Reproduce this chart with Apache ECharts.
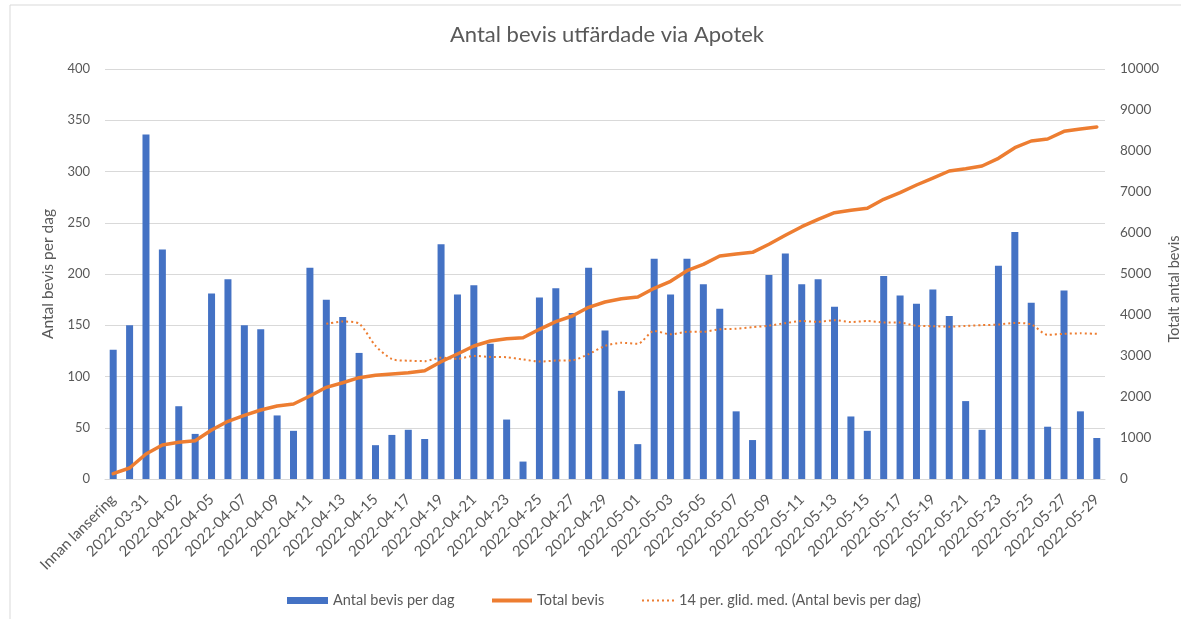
<!DOCTYPE html>
<html>
<head>
<meta charset="utf-8">
<script src="https://cdn.jsdelivr.net/npm/echarts@6/dist/echarts.min.js"></script>
<style>
html,body{margin:0;padding:0;background:#fff;}
#chart{width:1181px;height:619px;}
</style>
</head>
<body>
<div id="chart"></div>
<script>
const categories = ['Innan lansering','2022-03-30','2022-03-31','2022-04-01','2022-04-02','2022-04-04',
'2022-04-05','2022-04-06','2022-04-07','2022-04-08','2022-04-09','2022-04-10','2022-04-11','2022-04-12',
'2022-04-13','2022-04-14','2022-04-15','2022-04-16','2022-04-17','2022-04-18','2022-04-19','2022-04-20',
'2022-04-21','2022-04-22','2022-04-23','2022-04-24','2022-04-25','2022-04-26','2022-04-27','2022-04-28',
'2022-04-29','2022-04-30','2022-05-01','2022-05-02','2022-05-03','2022-05-04','2022-05-05','2022-05-06',
'2022-05-07','2022-05-08','2022-05-09','2022-05-10','2022-05-11','2022-05-12','2022-05-13','2022-05-14',
'2022-05-15','2022-05-16','2022-05-17','2022-05-18','2022-05-19','2022-05-20','2022-05-21','2022-05-22',
'2022-05-23','2022-05-24','2022-05-25','2022-05-26','2022-05-27','2022-05-28','2022-05-29'];

const perDay = [126,150,336,224,71,44,181,195,150,146,62,47,206,175,158,123,33,43,48,39,
229,180,189,132,58,17,177,186,162,206,145,86,34,215,180,215,190,166,66,38,
199,220,190,195,168,61,47,198,179,171,185,159,76,48,208,241,172,51,184,66,40];

const totalBevis = [130,268,610,829,894,935,1195,1407,1553,1683,1780,1829,2024,2236,2349,2471,2529,2561,2593,2642,
2861,3049,3244,3366,3422,3446,3651,3837,3976,4188,4317,4398,4439,4651,4822,5081,5236,5439,5488,5529,
5725,5944,6154,6334,6495,6554,6602,6822,6983,7171,7341,7512,7568,7634,7822,8081,8244,8293,8480,8537,8585];

const movingAvg = [null,null,null,null,null,null,null,null,null,null,null,null,null,
151.4,153.6,151.6,129.9,117,115.4,115,118.4,117.3,120.1,119.1,118.8,116.6,114.6,115.5,115.8,121.8,
129.8,132.9,131.9,144.5,141.1,143.6,143.7,146.1,146.6,148.1,149.6,152,154.1,153.3,154.9,153.1,154.1,
152.8,152.6,149.5,149.1,148.6,149.4,150.1,150.7,152.2,150.9,140.6,141.7,142.1,141.6];

const seriesNames = ['Antal bevis per dag','Total bevis','14 per. glid. med. (Antal bevis per dag)'];
const leftTicks = {min:0, max:400, interval:50};
const rightTicks = {min:0, max:10000, interval:1000};

const FONT = 'Lato';
const TXT = '#595959';
const ORANGE = '#ED7D31';
const BLUE = '#4472C4';

const legendText = {fontFamily:FONT,fontSize:14.5,color:TXT};
const dotIcon = 'path://M0,0h2v2h-2z M5,0h2v2h-2z M10,0h2v2h-2z M15,0h2v2h-2z M20,0h2v2h-2z M25,0h2v2h-2z M30,0h2v2h-2z';

const chart = echarts.init(document.getElementById('chart'), null, {renderer:'canvas'});
chart.setOption({
  animation:false,
  textStyle:{fontFamily:FONT},
  title:{
    text:'Antal bevis utfärdade via Apotek',
    left:602, textAlign:'center', top:19,
    textStyle:{fontFamily:FONT,fontSize:22,fontWeight:'normal',color:TXT}
  },
  graphic:[{
    type:'rect', shape:{x:10,y:5,width:1200,height:700},
    style:{fill:'none',stroke:'#d9d9d9',lineWidth:1}, silent:true
  }],
  legend:[
    {left:282, top:588, itemWidth:41, itemHeight:7, textStyle:legendText,
     itemStyle:{borderWidth:0},
     data:[{name:seriesNames[0], icon:'rect'}]},
    {left:487, top:588, itemWidth:40, itemHeight:4, textStyle:legendText,
     itemStyle:{borderWidth:0},
     data:[{name:seriesNames[1], icon:'rect'}]},
    {left:637, top:588, itemWidth:32, itemHeight:2, textStyle:legendText,
     itemStyle:{borderWidth:0},
     data:[{name:seriesNames[2], icon:dotIcon}]}
  ],
  grid:{left:105,right:76,top:69,bottom:140,containLabel:false,outerBoundsMode:'none'},
  xAxis:{
    type:'category',
    data:categories,
    boundaryGap:true,
    axisLine:{lineStyle:{color:'#d9d9d9'}},
    axisTick:{show:false},
    axisLabel:{interval:1,rotate:45,fontSize:15,color:TXT,fontFamily:FONT,margin:18}
  },
  yAxis:[
    {
      type:'value', min:leftTicks.min, max:leftTicks.max, interval:leftTicks.interval,
      name:'Antal bevis per dag', nameLocation:'middle', nameGap:42,
      nameTextStyle:{fontFamily:FONT,fontSize:15.5,color:TXT},
      axisLine:{show:false}, axisTick:{show:false},
      axisLabel:{fontSize:13,color:TXT,fontFamily:FONT,margin:15},
      splitLine:{lineStyle:{color:'#d9d9d9',width:1}}
    },
    {
      type:'value', min:rightTicks.min, max:rightTicks.max, interval:rightTicks.interval,
      name:'Totalt antal bevis', nameLocation:'middle', nameGap:62, nameRotate:90,
      nameMoveOverlap:false,
      nameTextStyle:{fontFamily:FONT,fontSize:14.5,color:TXT,padding:[0,30,0,0]},
      axisLine:{show:false}, axisTick:{show:false},
      axisLabel:{fontSize:13.5,color:TXT,fontFamily:FONT,margin:15,formatter:(v)=>String(v)},
      splitLine:{show:false}
    }
  ],
  series:[
    {
      name:seriesNames[0], type:'bar', data:perDay, yAxisIndex:0,
      barWidth:7, itemStyle:{color:BLUE}
    },
    {
      name:seriesNames[1], type:'line', data:totalBevis, yAxisIndex:1,
      symbol:'none', lineStyle:{color:ORANGE,width:3.5,cap:'round',join:'round'},
      itemStyle:{color:ORANGE}
    },
    {
      name:seriesNames[2], type:'line', data:movingAvg, yAxisIndex:0,
      symbol:'none', smooth:0.25,
      lineStyle:{color:ORANGE,width:2,type:[2,3]},
      itemStyle:{color:ORANGE}
    }
  ]
});
</script>
</body>
</html>
